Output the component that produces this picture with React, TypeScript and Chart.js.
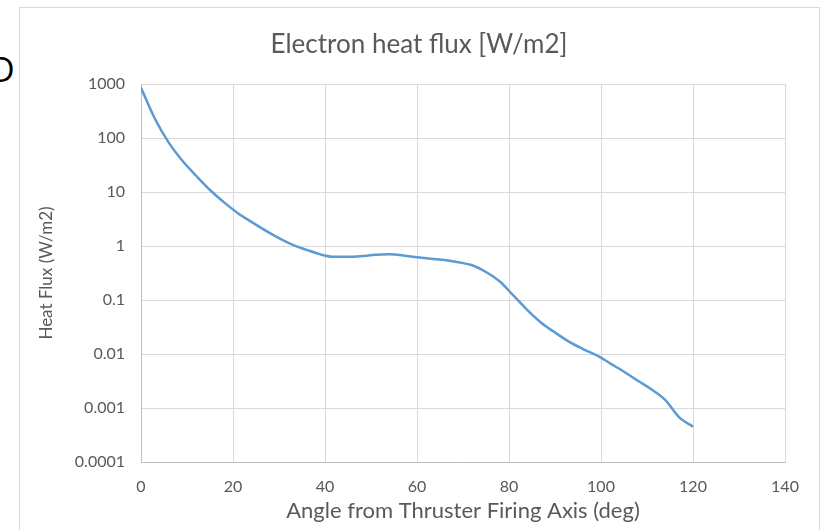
import React, { useEffect, useRef } from "react";
import { Chart, registerables } from "chart.js";

Chart.register(...registerables);

const TITLE = "Electron heat flux [W/m2]";
const X_TITLE = "Angle from Thruster Firing Axis (deg)";
const Y_TITLE = "Heat Flux (W/m2)";

const ANGLES = [
  0, 3, 6, 9, 12, 15, 18, 21, 24, 27, 30, 33, 36, 39, 42, 45, 48, 51, 54, 57,
  60, 63, 66, 69, 72, 75, 78, 81, 84, 87, 90, 93, 96, 99, 102, 105, 108, 111,
  114, 117, 120,
];
const FLUX = [
  850, 230, 83, 38, 20, 10.9, 6.5, 4.1, 2.8, 1.95, 1.4, 1.05, 0.85, 0.7,
  0.63, 0.63, 0.65, 0.69, 0.7, 0.67, 0.62, 0.58, 0.55, 0.5, 0.44, 0.33, 0.22,
  0.12, 0.065, 0.038, 0.025, 0.017, 0.0125, 0.0095, 0.0067, 0.0047, 0.0032,
  0.0022, 0.0014, 0.00067, 0.00045,
];
const Y_TICKS = [1000, 100, 10, 1, 0.1, 0.01, 0.001, 0.0001];
const Y_TICK_LABELS = ["1000", "100", "10", "1", "0.1", "0.01", "0.001", "0.0001"];

const GRAY_TEXT = "#595959";
const GRID = "#d9d9d9";
const LINE = "#5B9BD5";
const FONT = "Lato";

// frame of the chart object (left/right edges) used to centre the title
const FRAME_LEFT = 19;
const FRAME_RIGHT = 819;

const frameTitle = {
  id: "frameTitle",
  afterDraw(chart: any) {
    const ctx = chart.ctx;
    ctx.save();
    ctx.font = `normal 26px ${FONT}`;
    ctx.fillStyle = GRAY_TEXT;
    ctx.textAlign = "center";
    ctx.textBaseline = "alphabetic";
    ctx.fillText(TITLE, (FRAME_LEFT + FRAME_RIGHT) / 2, 53);
    ctx.restore();
  },
};

export default function App() {
  const ref = useRef<HTMLCanvasElement | null>(null);

  useEffect(() => {
    if (!ref.current) return;
    const chart = new Chart(ref.current, {
      type: "line",
      data: {
        datasets: [
          {
            data: ANGLES.map((a, i) => ({ x: a, y: FLUX[i] })),
            borderColor: LINE,
            borderWidth: 2.5,
            pointRadius: 0,
            fill: false,
            cubicInterpolationMode: "monotone",
          },
        ],
      },
      plugins: [frameTitle],
      options: {
        responsive: false,
        animation: false,
        devicePixelRatio: 1,
        layout: { padding: { left: 0, right: 36, top: 84, bottom: 0 } },
        plugins: {
          legend: { display: false },
          tooltip: { enabled: false },
          title: { display: false },
        },
        scales: {
          x: {
            type: "linear",
            min: 0,
            max: 140,
            ticks: {
              stepSize: 20,
              color: GRAY_TEXT,
              font: { family: FONT, size: 16 },
              padding: 15,
              maxRotation: 0,
            },
            grid: { color: GRID, lineWidth: 1, drawTicks: false },
            border: { color: "#bfbfbf", width: 1 },
            title: {
              display: true,
              text: X_TITLE,
              color: GRAY_TEXT,
              font: { family: FONT, size: 22 },
              padding: { top: 0, bottom: 6 },
            },
            afterFit: (s: any) => {
              s.height = 68;
            },
          },
          y: {
            type: "logarithmic",
            min: 0.0001,
            max: 1000,
            afterBuildTicks: (s: any) => {
              s.ticks = Y_TICKS.map((v) => ({ value: v, major: true }));
            },
            ticks: {
              color: GRAY_TEXT,
              font: { family: FONT, size: 16 },
              padding: 16,
              autoSkip: false,
              callback: (v: any) => {
                const i = Y_TICKS.indexOf(Number(v));
                return i >= 0 ? Y_TICK_LABELS[i] : "";
              },
            },
            grid: { color: GRID, lineWidth: 1, drawTicks: false },
            border: { color: "#bfbfbf", width: 1 },
            title: {
              display: true,
              text: Y_TITLE,
              color: GRAY_TEXT,
              font: { family: FONT, size: 17 },
              padding: { top: 36, bottom: 0 },
            },
            afterFit: (s: any) => {
              s.width = 141;
            },
          },
        },
      },
    });
    return () => chart.destroy();
  }, []);

  return (
    <div
      style={{
        position: "fixed",
        left: 0,
        top: 0,
        width: 821,
        height: 530,
        overflow: "hidden",
        background: "#ffffff",
      }}
    >
      <span
        style={{
          position: "absolute",
          left: -10,
          top: 52,
          fontFamily: "Open Sans",
          fontSize: 34,
          lineHeight: 1,
          color: "#000",
        }}
      >
        D
      </span>
      <div
        style={{
          position: "absolute",
          left: FRAME_LEFT,
          top: 7,
          width: FRAME_RIGHT - FRAME_LEFT + 1,
          height: 560,
          boxSizing: "border-box",
          border: "1px solid #d9d9d9",
        }}
      />
      <canvas
        ref={ref}
        width={821}
        height={530}
        style={{ position: "absolute", left: 0, top: 0, width: 821, height: 530 }}
      />
    </div>
  );
}
